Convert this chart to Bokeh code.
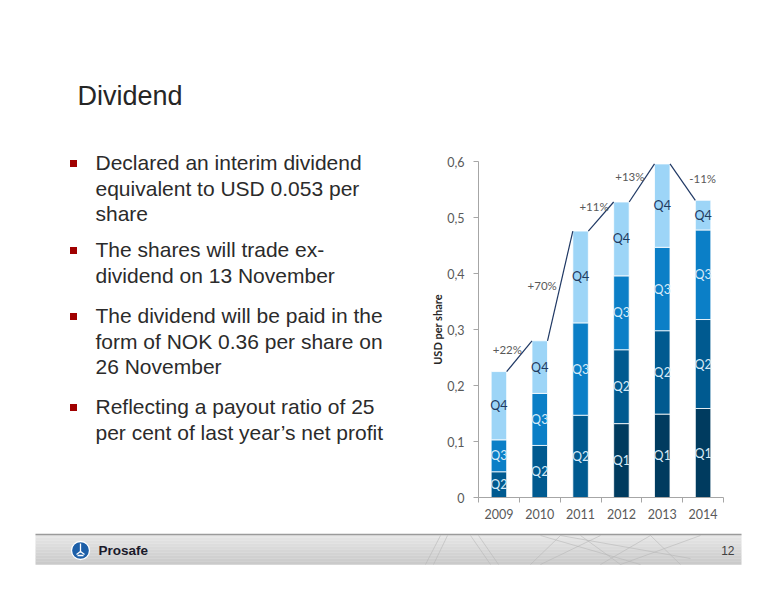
from bokeh.plotting import figure
from bokeh.models import Range1d, FixedTicker, ColumnDataSource, LinearAxis
from bokeh.embed import file_html
from bokeh.resources import INLINE
from bokeh.core.properties import value

# ---------------- data ----------------
years = ["2009", "2010", "2011", "2012", "2013", "2014"]
quarters = ["Q1", "Q2", "Q3", "Q4"]
q1 = [0.0, 0.0, 0.0, 0.132, 0.149, 0.159]
q2 = [0.046, 0.093, 0.147, 0.132, 0.149, 0.159]
q3 = [0.057, 0.093, 0.165, 0.132, 0.149, 0.160]
q4 = [0.122, 0.094, 0.164, 0.132, 0.149, 0.053]
growth_labels = ["+22%", "+70%", "+11%", "+13%", "-11%"]
y_ticks = [0, 0.1, 0.2, 0.3, 0.4, 0.5, 0.6]
y_tick_labels = ["0", "0,1", "0,2", "0,3", "0,4", "0,5", "0,6"]
y_axis_title = "USD per share"

slide_title = "Dividend"
bullets = [
    ["Declared an interim dividend", "equivalent to USD 0.053 per", "share"],
    ["The shares will trade ex-", "dividend on 13 November"],
    ["The dividend will be paid in the", "form of NOK 0.36 per share on", "26 November"],
    ["Reflecting a payout ratio of 25", "per cent of last year\u2019s net profit"],
]
company = "Prosafe"
page_number = "12"

# ---------------- styles / layout ----------------
q_colors = ["#003B5F", "#005A90", "#0B7FC7", "#9DD5F7"]
q_text_colors = ["#D6EAF8", "#D6EAF8", "#D6EAF8", "#1F3A5F"]
BAR_W = 0.38
CHART_FONT = "Lato"
SLIDE_FONT = "Liberation Sans"
label_offsets = [(-12, -7), (-18, 0), (-7, -10), (-12, -6), (20, -4)]

W, H = 760, 584
CL, CR, CT, CB = 478, 723, 150, 497     # chart area on the page (pixels)
X_MAX, Y_MAX = len(years), 0.62
ux = (CR - CL) / X_MAX                  # px per category
uy = (CB - CT) / Y_MAX                  # px per USD

p = figure(width=W, height=H,
           x_range=Range1d(-CL / ux, X_MAX + (W - CR) / ux),
           y_range=Range1d(-(H - CB) / uy, CB / uy),
           output_backend="svg", toolbar_location=None, min_border=0,
           x_axis_location=None, y_axis_location=None)
p.outline_line_color = None
p.background_fill_color = "white"
p.border_fill_color = "white"
p.grid.visible = False
# page-pixel coordinate system for the slide decoration
p.extra_x_ranges = {"px": Range1d(0, W)}
p.extra_y_ranges = {"py": Range1d(H, 0)}
RN = dict(x_range_name="px", y_range_name="py")

# ---------------- chart ----------------
series = [q1, q2, q3, q4]
xs = [i + 0.5 for i in range(len(years))]
bottoms = [0.0] * len(years)
for k, vals in enumerate(series):
    bx, bb, bt, cy = [], [], [], []
    for i, v in enumerate(vals):
        if v > 0:
            bx.append(xs[i]); bb.append(bottoms[i]); bt.append(bottoms[i] + v)
            cy.append(bottoms[i] + v / 2)
    src = ColumnDataSource(dict(x=bx, bottom=bb, top=bt, cy=cy, lab=[quarters[k]] * len(bx)))
    p.vbar(x="x", width=BAR_W, bottom="bottom", top="top", source=src,
           fill_color=q_colors[k], line_color="white", line_width=0.8)
    p.text(x="x", y="cy", text="lab", source=src, text_align="center", text_baseline="middle",
           text_font=value(CHART_FONT), text_font_size="12.5px", text_color=q_text_colors[k])
    bottoms = [bottoms[i] + vals[i] for i in range(len(years))]

totals = bottoms
cx0 = [xs[i] + BAR_W / 2 for i in range(len(years) - 1)]
cx1 = [xs[i + 1] - BAR_W / 2 for i in range(len(years) - 1)]
cy0 = totals[:-1]
cy1 = totals[1:]
p.segment(x0=cx0, y0=cy0, x1=cx1, y1=cy1, line_color="#1F3864", line_width=1.2)
gsrc = ColumnDataSource(dict(
    x=[(a + b) / 2 for a, b in zip(cx0, cx1)],
    y=[(a + b) / 2 for a, b in zip(cy0, cy1)],
    t=growth_labels,
    dx=[o[0] for o in label_offsets],
    dy=[o[1] for o in label_offsets],
))
p.text(x="x", y="y", text="t", x_offset="dx", y_offset="dy", source=gsrc,
       text_align="center", text_baseline="middle", text_font=value(CHART_FONT),
       text_font_size="11.5px", text_color="#595959")

xa = LinearAxis(fixed_location=0, bounds=(0, X_MAX))
xa.ticker = FixedTicker(ticks=xs, minor_ticks=list(range(len(years) + 1)))
xa.major_label_overrides = {x: y for x, y in zip(xs, years)}
xa.major_tick_out = 0
xa.major_tick_in = 0
xa.minor_tick_out = 5
xa.minor_tick_in = 0
xa.minor_tick_line_color = "#A6A6A6"
xa.major_label_standoff = 6

ya = LinearAxis(fixed_location=0, bounds=(0, 0.6))
ya.ticker = FixedTicker(ticks=y_ticks)
ya.major_label_overrides = {t: l for t, l in zip(y_ticks, y_tick_labels)}
ya.major_tick_out = 5
ya.major_tick_in = 0
ya.minor_tick_line_color = None
ya.major_tick_line_color = "#A6A6A6"
ya.major_label_standoff = 9
ya.axis_label = y_axis_title
ya.axis_label_text_font = CHART_FONT
ya.axis_label_text_font_style = "bold"
ya.axis_label_text_font_size = "11px"
ya.axis_label_text_color = "#262626"
ya.axis_label_standoff = 0

for ax in (xa, ya):
    ax.axis_line_color = "#A6A6A6"
    ax.major_label_text_font = CHART_FONT
    ax.major_label_text_font_size = "12.5px"
    ax.major_label_text_color = "#595959"
p.add_layout(xa, "below")
p.add_layout(ya, "left")

# ---------------- slide text (y = vertical centre of the text line) ----------------
p.text(x=[77], y=[95], text=[slide_title], text_font=value(SLIDE_FONT), text_font_size="27px",
       text_color="#262626", text_baseline="middle", **RN)

para_starts = [162, 249, 315, 406]
line_h = 25.5
tx, ty, tt, bxs, bys = [], [], [], [], []
for p_i, lines in enumerate(bullets):
    base = para_starts[p_i]
    bxs.append(73); bys.append(base + 1)
    for l_i, ln in enumerate(lines):
        tx.append(95); ty.append(base + l_i * line_h); tt.append(ln)
p.scatter(x=bxs, y=bys, marker="square", size=7, fill_color="#A00000", line_color=None, **RN)
p.text(x=tx, y=ty, text=tt, text_font=value(SLIDE_FONT), text_font_size="21px",
       text_color="#2B2B2B", text_baseline="middle", **RN)

# ---------------- footer ----------------
BX0, BX1, BY0, BY1 = 35, 741, 534, 564
n_strips = 10
top_c, bot_c = (230, 230, 230), (202, 202, 202)
sh = (BY1 - BY0) / n_strips
st, sb, sc = [], [], []
for s in range(n_strips):
    f = s / (n_strips - 1)
    c = tuple(int(round(top_c[j] + (bot_c[j] - top_c[j]) * f)) for j in range(3))
    st.append(BY0 + s * sh); sb.append(BY0 + (s + 1) * sh + 0.3)
    sc.append("#%02x%02x%02x" % c)
p.quad(left=[BX0] * n_strips, right=[BX1] * n_strips, top=st, bottom=sb,
       fill_color=sc, line_color=None, **RN)
deco = [(425, 564, 440, 535), (433, 564, 447, 535), (470, 535, 490, 564), (478, 535, 498, 564),
        (530, 564, 560, 535), (540, 564, 600, 535), (540, 535, 640, 564), (560, 535, 690, 558),
        (600, 564, 650, 535), (620, 564, 700, 535), (650, 535, 680, 564), (580, 535, 620, 564)]
p.segment(x0=[d[0] for d in deco], y0=[d[1] for d in deco], x1=[d[2] for d in deco],
          y1=[d[3] for d in deco], line_color="#B5B5B5", line_alpha=0.7, line_width=0.8, **RN)
p.segment(x0=[BX0], y0=[BY0], x1=[BX1], y1=[BY0], line_color="#9B9B9B", line_width=1.5, **RN)

# logo
LX, LY = 80, 550
p.scatter(x=[LX], y=[LY], marker="circle", size=18, fill_color="#1D5FA8",
          line_color="white", line_width=1.3, **RN)
p.segment(x0=[LX, LX - 4, LX + 4, LX - 3], y0=[LY - 7, LY + 4, LY + 4, LY + 5],
          x1=[LX, LX, LX, LX + 3], y1=[LY + 2, LY + 1, LY + 1, LY + 5],
          line_color="white", line_width=1.3, **RN)

p.text(x=[98], y=[550], text=[company], text_font=value(SLIDE_FONT), text_font_style="bold",
       text_font_size="13.5px", text_color="#1A1A2A", text_baseline="middle", **RN)
p.text(x=[734], y=[550], text=[page_number], text_font=value(SLIDE_FONT), text_font_size="12px",
       text_color="#404040", text_baseline="middle", text_align="right", **RN)

open("out.html", "w").write(file_html(p, INLINE))
